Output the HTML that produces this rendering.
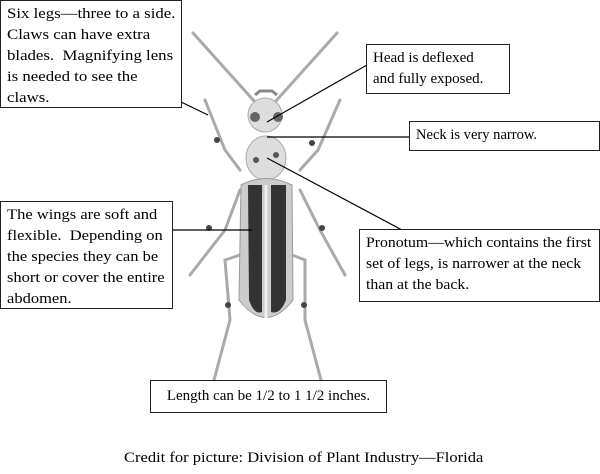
<!DOCTYPE html>
<html><head><style>
body{margin:0;background:#fff;width:600px;height:474px;position:relative;overflow:hidden;font-family:"Liberation Serif",serif;font-size:15px;color:#000}
.b{position:absolute;border:1.5px solid #222;background:#fff;line-height:21px;padding:3px 6px;box-sizing:border-box;white-space:nowrap}
.s{display:inline-block;transform-origin:0 0}
</style></head><body>
<svg width="600" height="474" style="position:absolute;left:0;top:0">
<g stroke="#aaa" stroke-width="3" stroke-linecap="round">
<line x1="193" y1="33" x2="255" y2="102"/><line x1="337" y1="33" x2="275" y2="102"/>
<polyline points="205,100 225,150 240,170" fill="none"/>
<polyline points="340,100 318,150 300,170" fill="none"/>
<polyline points="240,190 225,230 190,275" fill="none"/>
<polyline points="300,190 320,230 345,275" fill="none"/>
<polyline points="240,255 225,260 230,320 210,395" fill="none"/>
<polyline points="292,255 305,260 305,320 325,395" fill="none"/>
</g>
<g fill="#444"><circle cx="217" cy="140" r="3"/><circle cx="312" cy="143" r="3"/><circle cx="209" cy="228" r="3"/><circle cx="322" cy="228" r="3"/><circle cx="228" cy="305" r="3"/><circle cx="304" cy="305" r="3"/></g>
<ellipse cx="265" cy="115" rx="17" ry="17" fill="#ddd" stroke="#aaa"/>
<circle cx="255" cy="117" r="5" fill="#666"/><circle cx="278" cy="117" r="5" fill="#666"/>
<path d="M255,95 l5,-4 h12 l5,4" stroke="#888" stroke-width="3" fill="none"/>
<ellipse cx="266" cy="158" rx="20" ry="22" fill="#ddd" stroke="#aaa"/>
<circle cx="256" cy="160" r="3" fill="#555"/><circle cx="276" cy="155" r="3" fill="#555"/>
<path d="M241,185 Q266,172 292,185 L293,300 Q266,335 239,300 Z" fill="#ccc" stroke="#999"/>
<path d="M248,185 L249,300 Q254,315 262,312 L262,185 Z" fill="#333"/>
<path d="M271,185 L271,312 Q280,315 286,300 L286,185 Z" fill="#333"/>
<line x1="266" y1="185" x2="266" y2="318" stroke="#eee" stroke-width="3"/>
<g stroke="#000" stroke-width="1.2">
<line x1="150" y1="87" x2="208" y2="115"/>
<line x1="367" y1="65" x2="267" y2="122"/>
<line x1="409" y1="137" x2="267" y2="137"/>
<line x1="172" y1="230" x2="252" y2="230"/>
<line x1="402" y1="230" x2="267" y2="158"/>
</g>
</svg>
<div class="b" style="left:0;top:0;width:182px;height:108px"><span class="s" style="transform:scaleX(1.12)">Six legs—three to a side.<br>Claws can have extra<br>blades.&nbsp; Magnifying lens<br>is needed to see the<br>claws.</span></div>
<div class="b" style="left:366px;top:44px;width:144px;height:50px;padding-top:3px">Head is deflexed<br>and fully exposed.</div>
<div class="b" style="left:409px;top:121px;width:191px;height:30px;padding-top:3px"><span class="s" style="transform:scaleX(0.97)">Neck is very narrow.</span></div>
<div class="b" style="left:0;top:201px;width:173px;height:108px"><span class="s" style="transform:scaleX(1.1)">The wings are soft and<br>flexible.&nbsp; Depending on<br>the species they can be<br>short or cover the entire<br>abdomen.</span></div>
<div class="b" style="left:359px;top:229px;width:241px;height:73px"><span class="s" style="transform:scaleX(1.05)">Pronotum—which contains the first<br>set of legs, is narrower at the neck<br>than at the back.</span></div>
<div class="b" style="left:150px;top:380px;width:237px;height:33px;text-align:center;padding-top:5px">Length can be 1/2 to 1 1/2 inches.</div>
<div style="position:absolute;left:124px;top:450px;white-space:nowrap"><span class="s" style="transform:scaleX(1.1)">Credit for picture: Division of Plant Industry—Florida</span></div>
</body></html>
